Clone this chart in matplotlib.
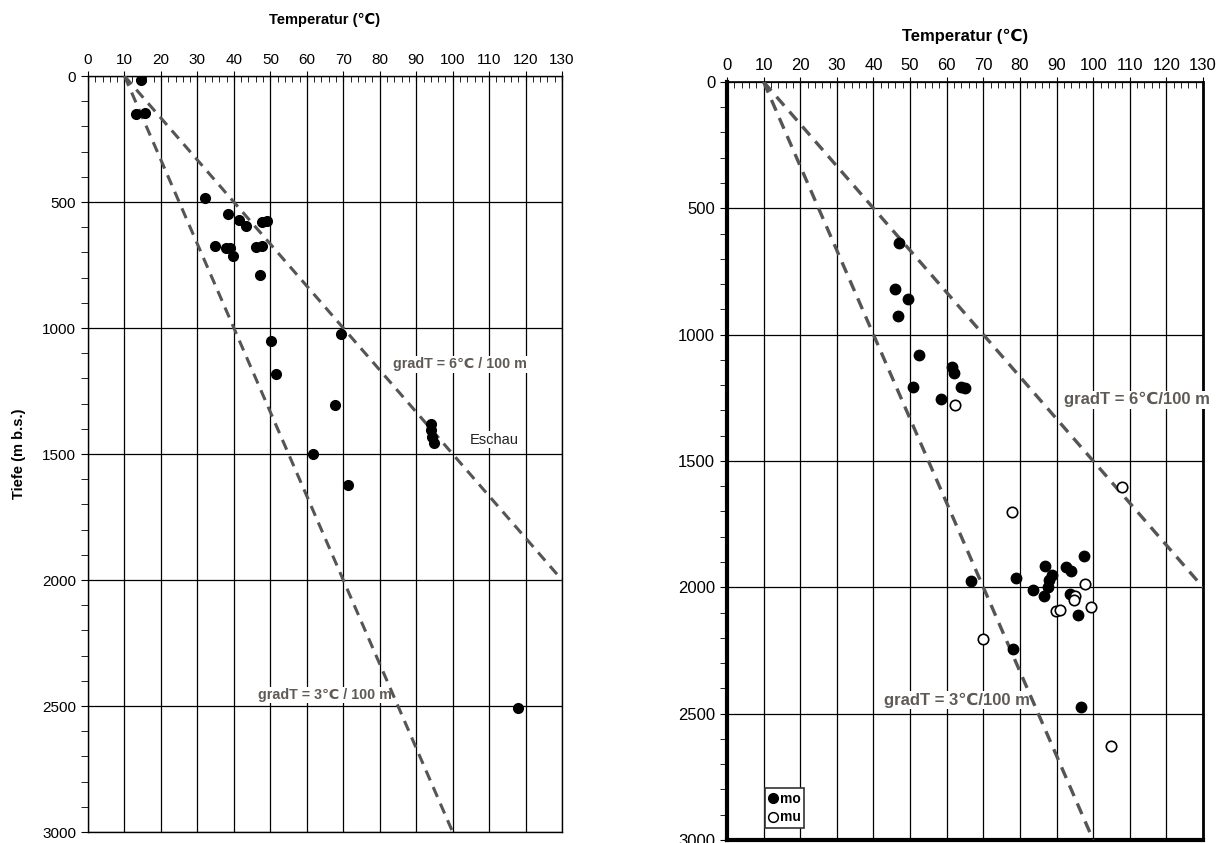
import numpy as np
import matplotlib
matplotlib.use("Agg")
import matplotlib.pyplot as plt
from matplotlib.ticker import MultipleLocator
from matplotlib.lines import Line2D

plt.rcParams['font.family'] = ['Liberation Sans', 'DejaVu Sans']

# Eschau / linkes Diagramm: Temperatur (C), Tiefe (m)
left_T = [14.5, 13.2, 15.6, 32.1, 38.4, 41.4, 43.3, 47.7, 49.1, 34.8, 37.9, 38.9,
          39.8, 46.1, 47.7, 47.2, 50.2, 69.4, 51.6, 67.7, 61.7, 71.3,
          94.1, 94.1, 94.2, 95.0, 118.0]
left_z = [16, 150, 147, 484, 548, 571, 595, 579, 575, 675, 683, 683,
          714, 679, 675, 790, 1052, 1024, 1183, 1306, 1500, 1623,
          1381, 1405, 1432, 1456, 2508]

# rechtes Diagramm: mo (gefuellt) und mu (offen)
mo_T = [46.9, 45.8, 49.4, 46.8, 52.3, 61.4, 61.9, 50.8, 63.8, 64.9, 58.5,
        97.5, 86.8, 92.7, 93.9, 88.7, 88.0, 78.9, 66.7, 83.7, 87.7, 86.6,
        93.8, 95.9, 78.0, 96.7]
mo_z = [638, 820, 858, 927, 1080, 1129, 1153, 1206, 1207, 1212, 1254,
        1876, 1915, 1918, 1936, 1951, 1971, 1964, 1977, 2009, 2000, 2034,
        2026, 2109, 2245, 2472]
mu_T = [62.3, 107.9, 77.8, 97.9, 94.9, 94.8, 89.8, 90.9, 99.4, 69.9, 104.9]
mu_z = [1277, 1604, 1704, 1987, 2034, 2050, 2092, 2089, 2078, 2203, 2630]

# Gradientlinien (T0 = 10 C bei 0 m)
grad6_T = [10, 130]
grad6_z = [0, 2000]
grad3_T = [10, 100]
grad3_z = [0, 3000]

LINE_COL = '#555555'
TEXT_COL = '#5f5a55'


def setup_axes(ax, title, title_size, title_pad, label_size):
    ax.set_xlim(0, 130)
    ax.set_ylim(3000, 0)
    ax.xaxis.tick_top()
    ax.xaxis.set_label_position('top')
    ax.xaxis.set_major_locator(MultipleLocator(10))
    ax.xaxis.set_minor_locator(MultipleLocator(2))
    ax.yaxis.set_major_locator(MultipleLocator(500))
    ax.yaxis.set_minor_locator(MultipleLocator(100))
    ax.grid(True, which='major', color='black', linewidth=0.9)
    ax.set_axisbelow(True)
    ax.tick_params(axis='x', which='major', direction='inout', length=7,
                   labelsize=label_size, pad=3)
    ax.tick_params(axis='x', which='minor', direction='in', length=4)
    ax.tick_params(axis='y', which='major', direction='out', length=5,
                   labelsize=label_size)
    ax.tick_params(axis='y', which='minor', direction='out', length=5)
    ax.set_xlabel(title, fontsize=title_size, fontweight='bold',
                  labelpad=title_pad)


fig = plt.figure(figsize=(12.19, 8.43), dpi=100)

# linkes Diagramm
ax1 = fig.add_axes([0.0722, 0.0130, 0.3889, 0.8968])
setup_axes(ax1, 'Temperatur (℃)', 10.5, 21, 11)
ax1.set_ylabel('Tiefe (m b.s.)', fontsize=10.5, fontweight='bold', labelpad=12)
for sp in ax1.spines.values():
    sp.set_linewidth(1.0)
ax1.plot(grad6_T, grad6_z, color=LINE_COL, lw=2.2, dashes=(3.5, 2.4), zorder=3)
ax1.plot(grad3_T, grad3_z, color=LINE_COL, lw=2.2, dashes=(3.5, 2.4), zorder=3)
ax1.plot(left_T, left_z, 'o', color='black', ms=7, zorder=4)
box = dict(facecolor='white', edgecolor='none', pad=1)
ax1.text(102, 1143, 'gradT = 6℃ / 100 m', fontsize=10.3, fontweight='bold',
         color=TEXT_COL, ha='center', va='center', bbox=box, zorder=2.8)
ax1.text(65, 2456, 'gradT = 3℃ / 100 m', fontsize=10.3, fontweight='bold',
         color=TEXT_COL, ha='center', va='center', bbox=box, zorder=2.8)
ax1.text(111.4, 1444, 'Eschau', fontsize=10.5, color='#222222',
         ha='center', va='center', bbox=box, zorder=2.8)

# rechtes Diagramm
ax2 = fig.add_axes([0.5964, 0.0036, 0.3905, 0.8992])
setup_axes(ax2, 'Temperatur (℃)', 12, 12, 12)
ax2.spines['left'].set_linewidth(3)
ax2.spines['bottom'].set_linewidth(3)
ax2.spines['right'].set_linewidth(2)
ax2.spines['top'].set_linewidth(1.2)
ax2.plot(grad6_T, grad6_z, color=LINE_COL, lw=2.4, dashes=(3.5, 2.4), zorder=3)
ax2.plot(grad3_T, grad3_z, color=LINE_COL, lw=2.4, dashes=(3.5, 2.4), zorder=3)
ax2.plot(mo_T, mo_z, 'o', color='black', ms=7.5, zorder=4)
ax2.plot(mu_T, mu_z, 'o', mfc='white', mec='black', mew=1.2, ms=7.5, zorder=4)
ax2.text(112.0, 1258, 'gradT = 6℃/100 m', fontsize=12, fontweight='bold',
         color=TEXT_COL, ha='center', va='center', bbox=box, zorder=2.8)
ax2.text(62.8, 2446, 'gradT = 3℃/100 m', fontsize=12, fontweight='bold',
         color=TEXT_COL, ha='center', va='center', bbox=box, zorder=2.8)

handles = [Line2D([], [], marker='o', ls='none', color='black', ms=7),
           Line2D([], [], marker='o', ls='none', mfc='white', mec='black',
                  mew=1.1, ms=7)]
leg = ax2.legend(handles, ['mo', 'mu'], loc='lower left',
                 bbox_to_anchor=(0.08, 0.016), prop={'size': 10, 'weight': 'bold'},
                 handlelength=0.6, handletextpad=0.2, borderpad=0.25,
                 labelspacing=0.35, fancybox=False, framealpha=1,
                 borderaxespad=0)
leg.get_frame().set_edgecolor('#333333')
leg.get_frame().set_linewidth(1.2)

fig.savefig('out.png', dpi=100)
